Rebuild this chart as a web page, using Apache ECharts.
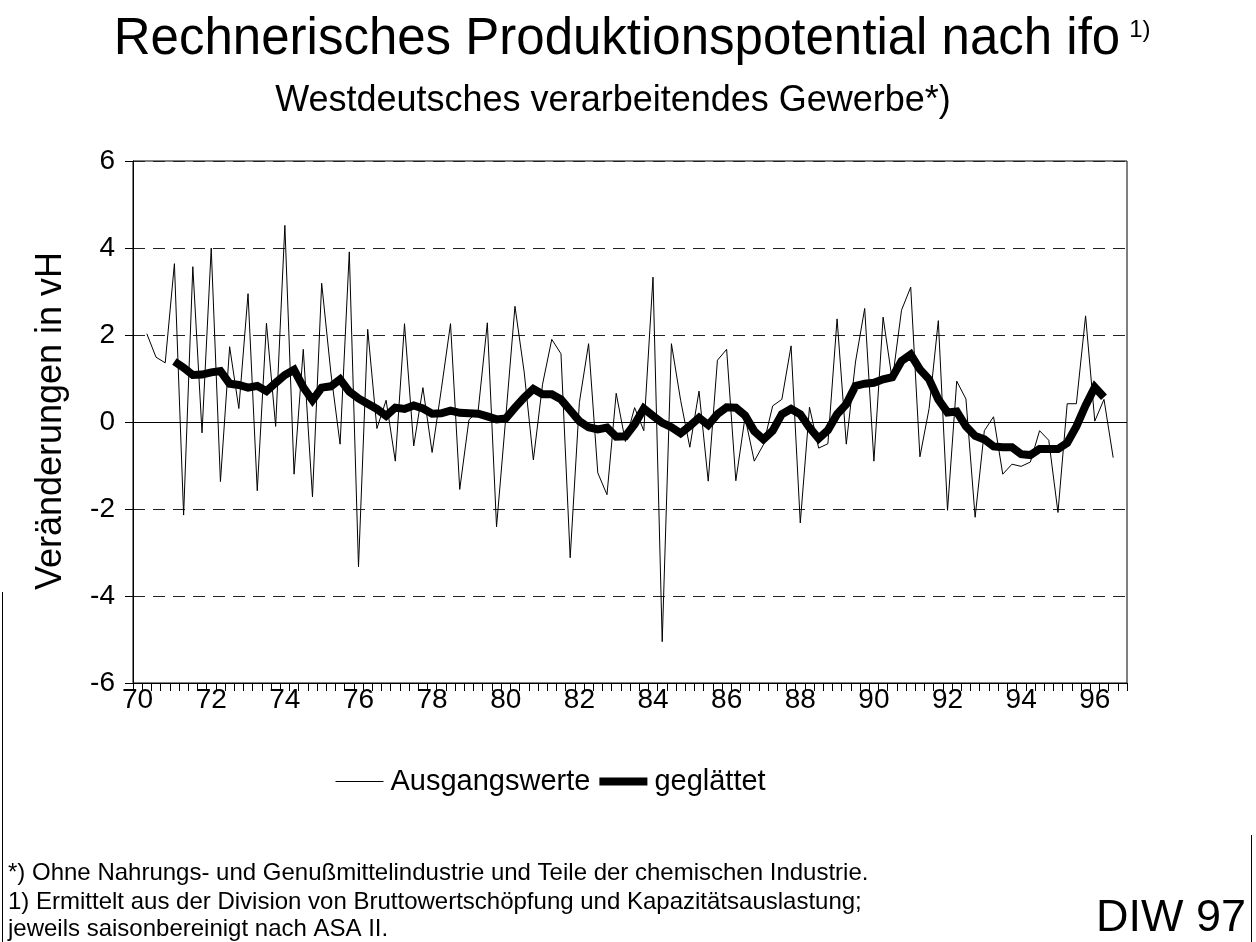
<!DOCTYPE html>
<html>
<head>
<meta charset="utf-8">
<script src="https://cdn.jsdelivr.net/npm/echarts@6/dist/echarts.min.js"></script>
<style>
  html, body { margin: 0; padding: 0; background: #fff; }
  #chart { width: 1256px; height: 942px; }
</style>
</head>
<body>
<div id="chart"></div>
<script>
// ---- data (quarterly changes in %) ----
const firstYear = 1970;
const lastYear = 1996;
const yearLabels = ['70','72','74','76','78','80','82','84','86','88','90','92','94','96'];
const yTicks = [-6, -4, -2, 0, 2, 4, 6];

// "Ausgangswerte": 1970Q2 .. 1996Q3
const rawStart = '1970Q2';
const rawValues = [
  2.03, 1.49, 1.36, 3.64, -2.14, 3.57, -0.25, 4.0, -1.37, 1.73,
  0.31, 2.95, -1.58, 2.27, -0.1, 4.52, -1.2, 1.67, -1.72, 3.19,
  1.13, -0.51, 3.91, -3.33, 2.13, -0.15, 0.5, -0.9, 2.26, -0.55,
  0.79, -0.7, 0.75, 2.26, -1.55, 0.05, 0.25, 2.28, -2.41, 0.1,
  2.66, 1.15, -0.87, 0.87, 1.9, 1.57, -3.12, 0.45, 1.8, -1.17,
  -1.67, 0.66, -0.45, 0.33, -0.2, 3.33, -5.05, 1.8, 0.5, -0.58,
  0.71, -1.36, 1.42, 1.67, -1.35, 0.11, -0.9, -0.52, 0.37, 0.52,
  1.75, -2.32, 0.34, -0.6, -0.5, 2.37, -0.51, 1.38, 2.61, -0.9,
  2.41, 0.95, 2.57, 3.1, -0.8, 0.31, 2.33, -2.03, 0.94, 0.53,
  -2.19, -0.2, 0.12, -1.2, -0.97, -1.02, -0.92, -0.2, -0.42, -2.08,
  0.42, 0.42, 2.44, 0.02, 0.52, -0.82
];

// "geglättet": 1971Q1 .. 1996Q3
const smoothStart = '1971Q1';
const smoothValues = [
  1.39, 1.25, 1.08, 1.09, 1.14, 1.17, 0.88, 0.85, 0.79, 0.83,
  0.71, 0.9, 1.08, 1.2, 0.8, 0.5, 0.79, 0.82, 0.98, 0.7,
  0.54, 0.42, 0.3, 0.14, 0.33, 0.3, 0.38, 0.31, 0.19, 0.2,
  0.26, 0.21, 0.2, 0.19, 0.13, 0.06, 0.08, 0.33, 0.56, 0.76,
  0.64, 0.64, 0.52, 0.27, 0.02, -0.12, -0.17, -0.13, -0.34, -0.33,
  -0.05, 0.31, 0.14, -0.02, -0.12, -0.26, -0.09, 0.1, -0.07, 0.18,
  0.34, 0.33, 0.15, -0.21, -0.4, -0.2, 0.18, 0.3, 0.18, -0.13,
  -0.38, -0.19, 0.18, 0.41, 0.83, 0.88, 0.9, 0.98, 1.03, 1.4,
  1.55, 1.21, 0.98, 0.52, 0.22, 0.24, -0.1, -0.32, -0.4, -0.56,
  -0.58, -0.58, -0.74, -0.76, -0.62, -0.62, -0.62, -0.48, -0.1, 0.38,
  0.8, 0.57
];

const titleText = 'Rechnerisches Produktionspotential nach ifo';
const titleSup = '1)';
const subtitleText = 'Westdeutsches verarbeitendes Gewerbe*)';
const yAxisTitle = 'Veränderungen in vH';
const seriesNames = ['Ausgangswerte', 'geglättet'];
const footnotes = [
  '*) Ohne Nahrungs- und Genußmittelindustrie und Teile der chemischen Industrie.',
  '1) Ermittelt aus der Division von Bruttowertschöpfung und Kapazitätsauslastung;',
  'jeweils saisonbereinigt nach ASA II.'
];
const sourceText = 'DIW 97';

// ---- build category axis and series data ----
const quarters = [];
for (let y = firstYear; y <= lastYear; y++) {
  for (let q = 1; q <= 4; q++) quarters.push(y + 'Q' + q);
}
function place(startCat, values) {
  const s = quarters.indexOf(startCat);
  return quarters.map((c, k) => (k >= s && k - s < values.length) ? values[k - s] : null);
}
const rawData = place(rawStart, rawValues);
const smoothData = place(smoothStart, smoothValues);

const FONT = '"Liberation Sans", Arial, Helvetica, sans-serif';

function textWidth(str, font) {
  const c = document.createElement('canvas').getContext('2d');
  c.font = font;
  return c.measureText(str).width;
}
const titleFont = 'normal 51px ' + FONT;
const titleW = textWidth(titleText, titleFont);
const titleCx = 617;
const supX = titleCx + titleW / 2 + 9;

const chart = echarts.init(document.getElementById('chart'), null, { renderer: 'canvas' });

const hidden = { color: 'rgba(0,0,0,0)', borderColor: 'rgba(0,0,0,0)', borderWidth: 0 };

const option = {
  animation: false,
  backgroundColor: '#ffffff',
  grid: {
    left: 133, right: 129, top: 161, height: 522,
    show: true, borderColor: '#000', borderWidth: 1, backgroundColor: 'transparent'
  },
  legend: {
    left: 330, top: 762,
    itemWidth: 48, itemHeight: 14, itemGap: 5,
    textStyle: { fontFamily: FONT, fontSize: 29, color: '#000', padding: [0, 0, 0, 2] },
    data: [
      { name: seriesNames[0], lineStyle: { width: 1, color: '#000' }, itemStyle: hidden },
      { name: seriesNames[1], lineStyle: { width: 8, color: '#000' }, itemStyle: hidden }
    ]
  },
  xAxis: {
    type: 'category',
    data: quarters,
    boundaryGap: true,
    axisLine: { show: true, onZero: false, lineStyle: { color: '#000', width: 1 } },
    axisTick: { show: true, interval: 0, length: 8, lineStyle: { color: '#000', width: 1 } },
    axisLabel: {
      interval: 7,
      margin: 3,
      color: '#000',
      fontFamily: FONT,
      fontSize: 28,
      formatter: function (value, idx) { return idx % 8 === 0 ? yearLabels[idx / 8] : ''; }
    },
    splitLine: { show: false }
  },
  yAxis: {
    type: 'value',
    min: yTicks[0], max: yTicks[yTicks.length - 1], interval: 2,
    axisLine: { show: true, lineStyle: { color: '#000', width: 1 } },
    axisTick: { show: true, length: 8, lineStyle: { color: '#000' } },
    axisLabel: { color: '#000', fontFamily: FONT, fontSize: 28, margin: 18 },
    splitLine: { show: true, lineStyle: { color: '#222', width: 1, type: [12, 8] } }
  },
  series: [
    {
      name: seriesNames[0],
      type: 'line',
      data: rawData,
      symbol: 'none',
      connectNulls: false,
      lineStyle: { color: '#000', width: 1 },
      itemStyle: { color: '#000' },
      z: 3,
      markLine: {
        silent: true,
        symbol: 'none',
        label: { show: false },
        lineStyle: { color: '#000', width: 1, type: 'solid' },
        data: [{ yAxis: 0 }]
      }
    },
    {
      name: seriesNames[1],
      type: 'line',
      data: smoothData,
      symbol: 'none',
      lineStyle: { color: '#000', width: 8, join: 'miter' },
      itemStyle: { color: '#000' },
      z: 4
    }
  ],
  graphic: [
    { type: 'text', x: titleCx, y: 40, style: { text: titleText, font: titleFont, fill: '#000', align: 'center', verticalAlign: 'middle' } },
    { type: 'text', x: supX, y: 30, style: { text: titleSup, font: 'normal 24px ' + FONT, fill: '#000', align: 'left', verticalAlign: 'middle' } },
    { type: 'text', x: 613, y: 101, style: { text: subtitleText, font: 'normal 36px ' + FONT, fill: '#000', align: 'center', verticalAlign: 'middle' } },
    { type: 'text', x: 51, y: 421, rotation: Math.PI / 2, style: { text: yAxisTitle, font: 'normal 36px ' + FONT, fill: '#000', align: 'center', verticalAlign: 'middle' } },
    { type: 'text', x: 8, y: 873, style: { text: footnotes[0], font: 'normal 24px ' + FONT, fill: '#000', align: 'left', verticalAlign: 'middle' } },
    { type: 'text', x: 8, y: 902, style: { text: footnotes[1], font: 'normal 24px ' + FONT, fill: '#000', align: 'left', verticalAlign: 'middle' } },
    { type: 'text', x: 8, y: 929, style: { text: footnotes[2], font: 'normal 24px ' + FONT, fill: '#000', align: 'left', verticalAlign: 'middle' } },
    { type: 'text', x: 1246, y: 919, style: { text: sourceText, font: 'normal 45px ' + FONT, fill: '#000', align: 'right', verticalAlign: 'middle' } },
    { type: 'line', shape: { x1: 2.5, y1: 592, x2: 2.5, y2: 942 }, style: { stroke: '#000', lineWidth: 1 } },
    { type: 'line', shape: { x1: 1251.5, y1: 835, x2: 1251.5, y2: 942 }, style: { stroke: '#000', lineWidth: 1 } }
  ]
};
chart.setOption(option);
</script>
</body>
</html>
